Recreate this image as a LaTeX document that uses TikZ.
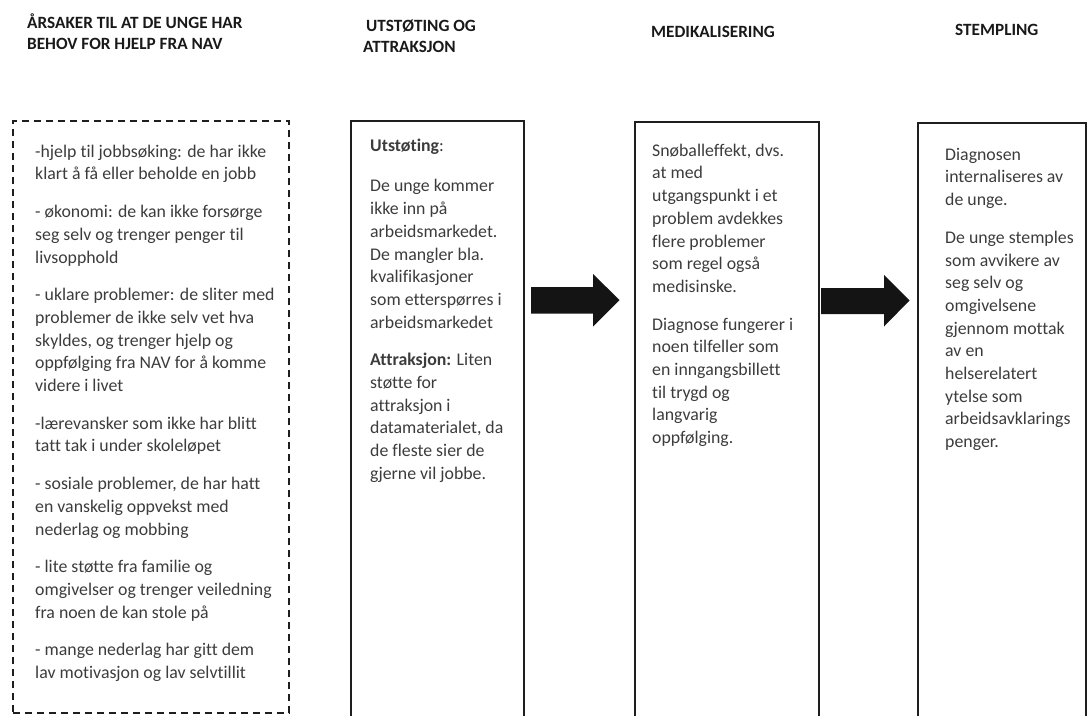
\documentclass[tikz,border=0pt]{standalone}
\usepackage{fontspec}
\setmainfont{Carlito}[Ligatures={NoCommon}]
\definecolor{bodytext}{RGB}{60,60,60}
\definecolor{headtext}{RGB}{25,25,25}
\definecolor{framecol}{RGB}{30,30,30}
\newcommand\mystrut{\rule{0pt}{14pt}}
\tikzset{
  body/.style={anchor=north west, inner sep=0pt, align=left, text=bodytext,
    font=\fontsize{17.8}{22.7}\selectfont},
  head/.style={anchor=north west, inner sep=0pt, align=left, text=headtext,
    font=\bfseries\fontsize{17.2}{21}\selectfont},
  headone/.style={anchor=base west, inner sep=0pt, text=headtext,
    font=\bfseries\fontsize{17.2}{21}\selectfont},
  solidbox/.style={draw=framecol, line width=1.8pt, anchor=north west, inner sep=0pt},
  dashbox/.style={draw=framecol, line width=1.8pt, dash pattern=on 7pt off 5pt,
    anchor=north west, inner sep=0pt},
  blockarrow/.style={fill=black!92, draw=none},
}
\begin{document}
\begin{tikzpicture}[x=1pt,y=-1pt]
\useasboundingbox (0,0) rectangle (1087,715);
\clip (0,0) rectangle (1087,715);

% headings
\node[head] (h1) at (27,13.5) {\mystrut ÅRSAKER TIL AT DE UNGE HAR\\BEHOV FOR HJELP FRA NAV};
\node[head] (h2) at (363,17) {\mystrut\hspace{3pt}UTSTØTING OG\\ATTRAKSJON};
\node[headone] (h3) at (651,37) {MEDIKALISERING};
\node[headone] (h4) at (955,35) {STEMPLING};

% frames
\node[dashbox, minimum width=276pt, minimum height=592pt] (b1) at (12,120) {};
\node[solidbox, minimum width=173pt, minimum height=640pt] (b2) at (350,120) {};
\node[solidbox, minimum width=184pt, minimum height=640pt] (b3) at (634,121) {};
\node[solidbox, minimum width=168pt, minimum height=640pt] (b4) at (917,122) {};

% texts
\node[body] (t1) at (35,143) {\mystrut-hjelp til jobbsøking: de har ikke\\
klart å få eller beholde en jobb\\[15pt]
- økonomi: de kan ikke forsørge\\
seg selv og trenger penger til\\
livsopphold\\[15pt]
- uklare problemer: de sliter med\\
problemer de ikke selv vet hva\\
skyldes, og trenger hjelp og\\
oppfølging fra NAV for å komme\\
videre i livet\\[15pt]
-lærevansker som ikke har blitt\\
tatt tak i under skoleløpet\\[15pt]
- sosiale problemer, de har hatt\\
en vanskelig oppvekst med\\
nederlag og mobbing\\[15pt]
- lite støtte fra familie og\\
omgivelser og trenger veiledning\\
fra noen de kan stole på\\[15pt]
- mange nederlag har gitt dem\\
lav motivasjon og lav selvtillit};

\node[body] (t2) at (370,137) {\mystrut\textbf{Utstøting}:\\[18pt]
De unge kommer\\
ikke inn på\\
arbeidsmarkedet.\\
De mangler bla.\\
kvalifikasjoner\\
som etterspørres i\\
arbeidsmarkedet\\[15pt]
\textbf{Attraksjon:} Liten\\
støtte for\\
attraksjon i\\
datamaterialet, da\\
de fleste sier de\\
gjerne vil jobbe.};

\node[body] (t3) at (652,142) {\mystrut Snøballeffekt, dvs.\\
at med\\
utgangspunkt i et\\
problem avdekkes\\
flere problemer\\
som regel også\\
medisinske.\\[15pt]
Diagnose fungerer i\\
noen tilfeller som\\
en inngangsbillett\\
til trygd og\\
langvarig\\
oppfølging.};

\node[body] (t4) at (945,146) {\mystrut Diagnosen\\
internaliseres av\\
de unge.\\[15pt]
De unge stemples\\
som avvikere av\\
seg selv og\\
omgivelsene\\
gjennom mottak\\
av en\\
helserelatert\\
ytelse som\\
arbeidsavklarings\\
penger.};

% block arrows
\fill[blockarrow] (531,287) -- (593,287) -- (593,274) -- (619.5,300) -- (593,326.5)
  -- (593,313.5) -- (531,313.5) -- cycle;
\fill[blockarrow] (821,288) -- (884,288) -- (884,275) -- (909.5,300.5) -- (884,326.5)
  -- (884,314) -- (821,314) -- cycle;
\end{tikzpicture}
\end{document}
